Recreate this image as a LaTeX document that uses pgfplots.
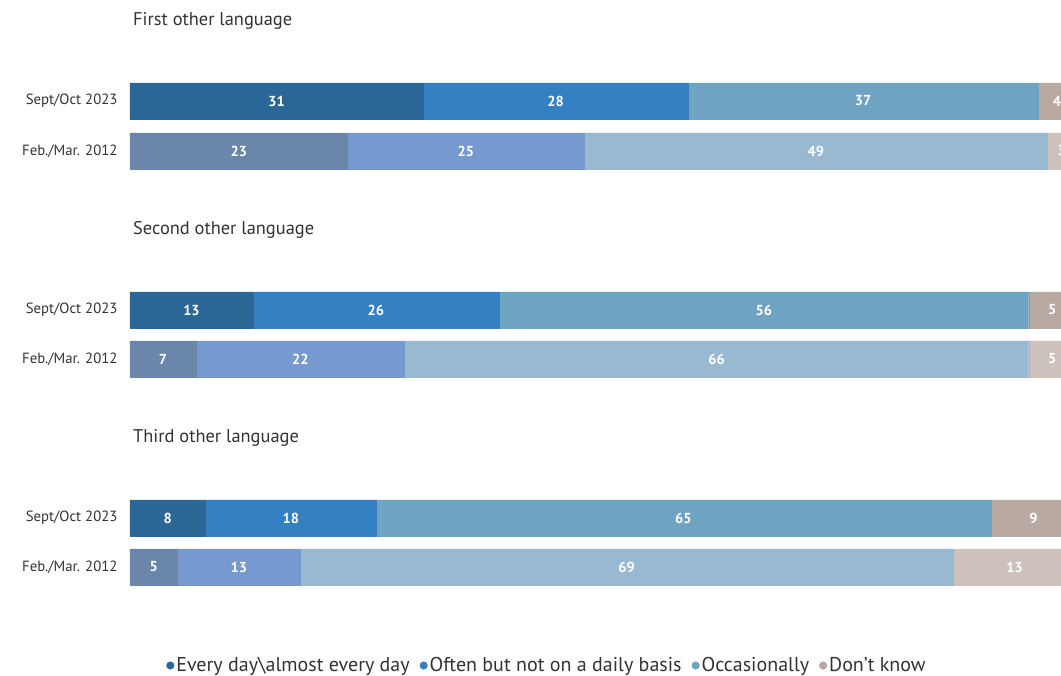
\documentclass[border=0pt]{standalone}
\usepackage{pgfplots}
\pgfplotsset{compat=1.18}
\usepackage{fontspec}
\setmainfont{PT Sans}
\definecolor{a1}{HTML}{2A6796}
\definecolor{a2}{HTML}{3480C2}
\definecolor{a3}{HTML}{6FA3C2}
\definecolor{a4}{HTML}{B8AAA2}
\definecolor{b1}{HTML}{6A86AB}
\definecolor{b2}{HTML}{7699D0}
\definecolor{b3}{HTML}{99B9D1}
\definecolor{b4}{HTML}{CDC1BB}
\definecolor{txt}{HTML}{333333}
\pgfplotsset{
  base/.style={
    at={(130pt,0pt)}, anchor=south west,
    scale only axis, width=946pt, height=676pt,
    xmin=0, xmax=100, ymin=-676, ymax=0,
    xbar stacked, bar width=36,
    axis line style={draw=none}, major tick style={draw=none},
    xtick=\empty,
    yticklabel style={font=\fontsize{14.8}{16}\selectfont, text=txt, xshift=-9pt},
    /pgf/number format/assume math mode=true,
    visualization depends on=rawx \as \rawx,
    point meta=x,
    nodes near coords={\pgfmathprintnumber{\rawx}},
    every node near coord/.append style={anchor=center, font=\bfseries\fontsize{14.5}{16}\selectfont, text=white},
  },
  bul/.style={legend image code/.code={\fill (-6pt,0pt) circle (3.8pt);}},
}
\begin{document}
\begin{tikzpicture}
\begin{axis}[base,
  ytick={-101,-310,-518},
  yticklabels={Sept/Oct 2023,Sept/Oct 2023,Sept/Oct 2023},
  legend style={at={(0.4408,0.0155)}, anchor=center, draw=none, fill=none,
    legend columns=4, font=\fontsize{20}{22}\selectfont, text=txt,
    /tikz/every even column/.append style={column sep=8pt}},
]
\addplot[fill=a1, draw=a1, line width=0.4pt, bul] coordinates {(31,-101) (13,-310) (8,-518)};
\addplot[fill=a2, draw=a2, line width=0.4pt, bul] coordinates {(28,-101) (26,-310) (18,-518)};
\addplot[fill=a3, draw=a3, line width=0.4pt, bul] coordinates {(37,-101) (56,-310) (65,-518)};
\addplot[fill=a4, draw=a4, line width=0.4pt, bul] coordinates {(4,-101) (5,-310) (9,-518)};
\legend{Every day\textbackslash almost every day, Often but not on a daily basis, Occasionally, Don't know}
\end{axis}
\begin{axis}[base,
  ytick={-151,-359,-567},
  yticklabels={Feb./Mar. 2012,Feb./Mar. 2012,Feb./Mar. 2012},
]
\addplot[fill=b1, draw=b1, line width=0.4pt] coordinates {(23,-151) (7,-359) (5,-567)};
\addplot[fill=b2, draw=b2, line width=0.4pt] coordinates {(25,-151) (22,-359) (13,-567)};
\addplot[fill=b3, draw=b3, line width=0.4pt] coordinates {(49,-151) (66,-359) (69,-567)};
\addplot[fill=b4, draw=b4, line width=0.4pt] coordinates {(3,-151) (5,-359) (13,-567)};
\end{axis}
\node[anchor=west, inner sep=0pt, font=\fontsize{18.4}{20}\selectfont, text=txt] at (133pt,655pt) {First other language};
\node[anchor=west, inner sep=0pt, font=\fontsize{18.4}{20}\selectfont, text=txt] at (133pt,446pt) {Second other language};
\node[anchor=west, inner sep=0pt, font=\fontsize{18.4}{20}\selectfont, text=txt] at (133pt,238pt) {Third other language};
\pgfresetboundingbox
\useasboundingbox (0pt,0pt) rectangle (1061pt,676pt);
\end{tikzpicture}
\end{document}
